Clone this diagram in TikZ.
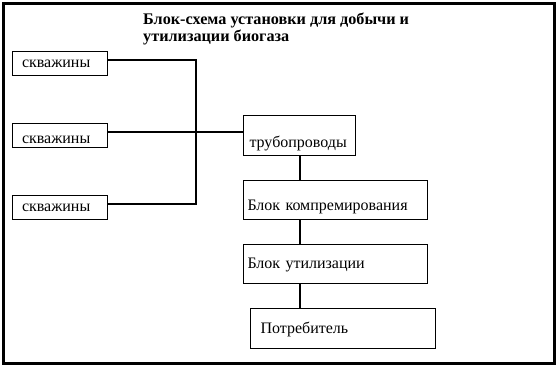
\documentclass[tikz,border=0pt]{standalone}
\usepackage{fontspec}
\setmainfont{Liberation Serif}
\begin{document}
\begin{tikzpicture}[x=1pt,y=-1pt,
  box/.style={draw, line width=1pt, anchor=north west, inner ysep=0pt, align=left,
    font=\fontsize{16}{18}\selectfont},
  conn/.style={line width=2pt},
  frame/.style={line width=3pt},
  ttl/.style={anchor=base west, align=left, inner sep=0pt,
    font=\fontsize{16.2}{17}\selectfont\bfseries}]
\useasboundingbox (0,0) rectangle (558,366);
\draw[frame] (3.5,3.5) rectangle (554.5,363.5);
\node[ttl] (title) at (143,25) {Блок-схема установки для добычи и};
\node[ttl] (title2) at (143,42) {утилизации биогаза};
% wells
\node[box, inner xsep=10pt, text width=75pt, text height=16pt, text depth=8pt] (s1) at (11.5,51) {скважины};
\node[box, inner xsep=10pt, text width=75pt, text height=20pt, text depth=4pt] (s2) at (11.5,123) {скважины};
\node[box, inner xsep=10pt, text width=75pt, text height=16pt, text depth=8pt] (s3) at (11.5,195) {скважины};
% chain
\node[box, inner xsep=6pt, text width=100pt, text height=32pt, text depth=8pt] (trub) at (243,115) {трубопроводы};
\node[box, inner xsep=4pt, text width=176pt, text height=30pt, text depth=9pt] (komp) at (243,180) {Блок компремирования};
\node[box, inner xsep=4pt, text width=176pt, text height=24pt, text depth=15pt] (util) at (243,244) {Блок утилизации};
\node[box, inner xsep=10pt, text width=165pt, text height=25pt, text depth=15pt] (potr) at (250,308) {Потребитель};
% connectors
\coordinate (j1) at (196,60);
\coordinate (j2) at (196,132);
\coordinate (j3) at (196,204);
\draw[conn] (s1.east |- j1) -- (j1) -- (j3) -- (s3.east |- j3);
\draw[conn] (s2.east |- j2) -- (trub.west |- j2);
\coordinate (v) at (300,0);
\draw[conn] (v |- trub.south) -- (v |- komp.north);
\draw[conn] (v |- komp.south) -- (v |- util.north);
\draw[conn] (v |- util.south) -- (v |- potr.north);
\end{tikzpicture}
\end{document}
